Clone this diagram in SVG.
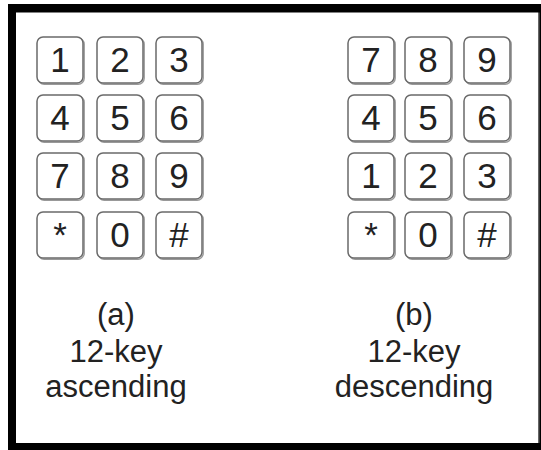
<svg xmlns="http://www.w3.org/2000/svg" width="541" height="450" viewBox="0 0 541 450">
<style>
.key text{font-family:"Liberation Sans",Arial,sans-serif;font-size:35px;fill:#222;text-anchor:middle}
.lbl{font-family:"Liberation Sans",Arial,sans-serif;font-size:31px;fill:#222;text-anchor:middle}
</style>
<defs>
<g id="keyshape">
<rect x="1.2" y="1.2" width="46" height="46" rx="6" fill="none" stroke="#999" stroke-width="1.4"/>
<rect x="0" y="0" width="46" height="46" rx="6" fill="#fff" stroke="#6a6a6a" stroke-width="1.5"/>
</g>
</defs>
<rect x="0" y="0" width="541" height="450" fill="#fff"/>
<g id="frame">
<rect x="8" y="4" width="533" height="446" fill="#000"/>
<rect x="16" y="12.5" width="522" height="430.5" fill="#fff"/>
<rect x="538" y="12.5" width="1.5" height="430.5" fill="#666"/>
</g>
<g id="keypad-a">
<g class="key" id="a1"><use href="#keyshape" x="37" y="37"/><text x="60" y="72">1</text></g>
<g class="key" id="a2"><use href="#keyshape" x="97" y="37"/><text x="120" y="72">2</text></g>
<g class="key" id="a3"><use href="#keyshape" x="156" y="37"/><text x="179" y="72">3</text></g>
<g class="key" id="a4"><use href="#keyshape" x="37" y="95"/><text x="60" y="130">4</text></g>
<g class="key" id="a5"><use href="#keyshape" x="97" y="95"/><text x="120" y="130">5</text></g>
<g class="key" id="a6"><use href="#keyshape" x="156" y="95"/><text x="179" y="130">6</text></g>
<g class="key" id="a7"><use href="#keyshape" x="37" y="153"/><text x="60" y="188">7</text></g>
<g class="key" id="a8"><use href="#keyshape" x="97" y="153"/><text x="120" y="188">8</text></g>
<g class="key" id="a9"><use href="#keyshape" x="156" y="153"/><text x="179" y="188">9</text></g>
<g class="key" id="astar"><use href="#keyshape" x="37" y="212"/><text x="60" y="247">*</text></g>
<g class="key" id="a0"><use href="#keyshape" x="97" y="212"/><text x="120" y="247">0</text></g>
<g class="key" id="ahash"><use href="#keyshape" x="156" y="212"/><text x="179" y="247">#</text></g>
</g>
<g id="keypad-b">
<g class="key" id="b7"><use href="#keyshape" x="348" y="37"/><text x="371" y="72">7</text></g>
<g class="key" id="b8"><use href="#keyshape" x="405" y="37"/><text x="428" y="72">8</text></g>
<g class="key" id="b9"><use href="#keyshape" x="464" y="37"/><text x="487" y="72">9</text></g>
<g class="key" id="b4"><use href="#keyshape" x="348" y="95"/><text x="371" y="130">4</text></g>
<g class="key" id="b5"><use href="#keyshape" x="405" y="95"/><text x="428" y="130">5</text></g>
<g class="key" id="b6"><use href="#keyshape" x="464" y="95"/><text x="487" y="130">6</text></g>
<g class="key" id="b1"><use href="#keyshape" x="348" y="153"/><text x="371" y="188">1</text></g>
<g class="key" id="b2"><use href="#keyshape" x="405" y="153"/><text x="428" y="188">2</text></g>
<g class="key" id="b3"><use href="#keyshape" x="464" y="153"/><text x="487" y="188">3</text></g>
<g class="key" id="bstar"><use href="#keyshape" x="348" y="212"/><text x="371" y="247">*</text></g>
<g class="key" id="b0"><use href="#keyshape" x="405" y="212"/><text x="428" y="247">0</text></g>
<g class="key" id="bhash"><use href="#keyshape" x="464" y="212"/><text x="487" y="247">#</text></g>
</g>
<g id="label-a">
<text class="lbl" x="116" y="325">(a)</text>
<text class="lbl" x="116" y="362">12-key</text>
<text class="lbl" x="116" y="397">ascending</text>
</g>
<g id="label-b">
<text class="lbl" x="414" y="325">(b)</text>
<text class="lbl" x="414" y="362">12-key</text>
<text class="lbl" x="414" y="397">descending</text>
</g>
</svg>
